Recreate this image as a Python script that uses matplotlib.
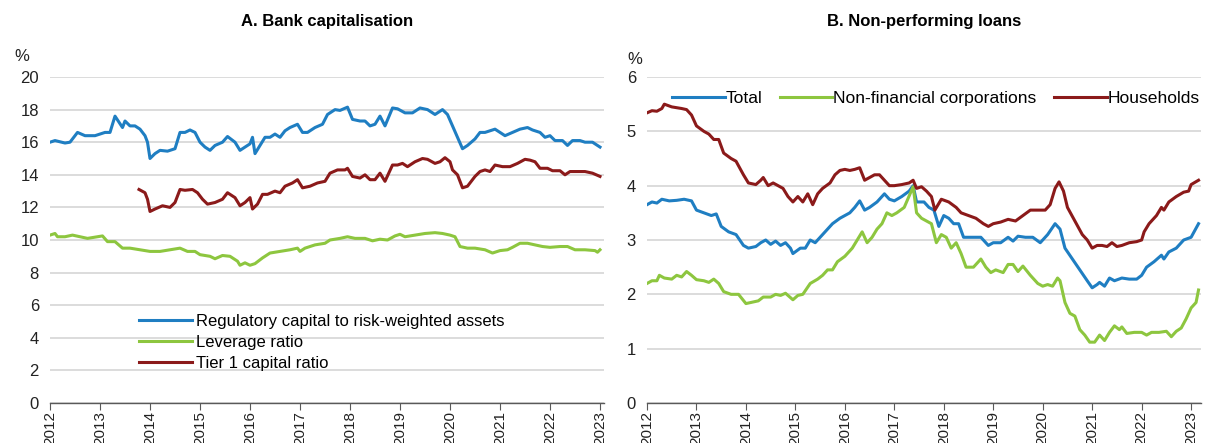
import numpy as np
import matplotlib
matplotlib.use("Agg")
import matplotlib.pyplot as plt

plt.rcParams['font.family'] = ['Liberation Sans', 'DejaVu Sans']

BLUE = "#1f7ec2"
GREEN = "#8dc63f"
RED = "#8b1a1a"

# Panel A: bank capitalisation (%)
reg_t = [2012.0, 2012.1, 2012.3, 2012.4, 2012.55, 2012.7, 2012.9, 2013.0, 2013.1, 2013.2,
         2013.3, 2013.45, 2013.5, 2013.6, 2013.7, 2013.8, 2013.9, 2013.95, 2014.0, 2014.1,
         2014.2, 2014.35, 2014.5, 2014.6, 2014.7, 2014.8, 2014.9, 2015.0, 2015.1, 2015.2,
         2015.3, 2015.45, 2015.55, 2015.7, 2015.8, 2015.9, 2016.0, 2016.05, 2016.1, 2016.2,
         2016.3, 2016.4, 2016.5, 2016.6, 2016.7, 2016.8, 2016.95, 2017.05, 2017.15, 2017.3,
         2017.45, 2017.55, 2017.7, 2017.8, 2017.95, 2018.05, 2018.2, 2018.3, 2018.4, 2018.5,
         2018.6, 2018.7, 2018.85, 2018.95, 2019.1, 2019.25, 2019.4, 2019.55, 2019.7, 2019.85,
         2019.95, 2020.05, 2020.15, 2020.25, 2020.35, 2020.5, 2020.6, 2020.7, 2020.8, 2020.9,
         2021.0, 2021.1, 2021.25, 2021.4, 2021.55, 2021.65, 2021.8, 2021.9, 2022.0, 2022.1,
         2022.25, 2022.35, 2022.45, 2022.6, 2022.7, 2022.85, 2023.0]
reg_v = [16.0, 16.1, 15.95, 16.0, 16.6, 16.4, 16.4, 16.5, 16.6, 16.6,
         17.6, 16.9, 17.3, 17.0, 17.0, 16.8, 16.4, 16.0, 15.0, 15.3,
         15.5, 15.45, 15.6, 16.6, 16.6, 16.75, 16.6, 16.0, 15.7, 15.5,
         15.8, 16.0, 16.35, 16.0, 15.5, 15.7, 15.9, 16.3, 15.3, 15.8,
         16.3, 16.3, 16.5, 16.3, 16.7, 16.9, 17.1, 16.6, 16.6, 16.9,
         17.1, 17.7, 18.0, 17.95, 18.15, 17.4, 17.3, 17.3, 17.0, 17.1,
         17.6, 17.0, 18.1, 18.05, 17.8, 17.8, 18.1, 18.0, 17.7, 18.0,
         17.7, 17.0, 16.3, 15.6, 15.8, 16.2, 16.6, 16.6, 16.7, 16.8,
         16.6, 16.4, 16.6, 16.8, 16.9, 16.75, 16.6, 16.3, 16.4, 16.1,
         16.1, 15.8, 16.1, 16.1, 16.0, 16.0, 15.7]

lev_t = [2012.0, 2012.1, 2012.15, 2012.3, 2012.45, 2012.6, 2012.75, 2012.95, 2013.05, 2013.15,
         2013.3, 2013.45, 2013.6, 2013.8, 2014.0, 2014.2, 2014.4, 2014.6, 2014.75, 2014.9,
         2015.0, 2015.2, 2015.3, 2015.45, 2015.6, 2015.75, 2015.8, 2015.9, 2016.0, 2016.1,
         2016.25, 2016.4, 2016.6, 2016.8, 2016.95, 2017.0, 2017.1, 2017.3, 2017.5, 2017.6,
         2017.8, 2017.95, 2018.1, 2018.3, 2018.45, 2018.6, 2018.75, 2018.9, 2019.0, 2019.1,
         2019.3, 2019.5, 2019.7, 2019.85, 2020.0, 2020.1, 2020.2, 2020.35, 2020.5, 2020.7,
         2020.85, 2021.0, 2021.15, 2021.25, 2021.4, 2021.55, 2021.7, 2021.85, 2022.0, 2022.2,
         2022.35, 2022.5, 2022.7, 2022.9, 2022.95, 2023.0]
lev_v = [10.3, 10.4, 10.2, 10.2, 10.3, 10.2, 10.1, 10.2, 10.25, 9.9,
         9.9, 9.5, 9.5, 9.4, 9.3, 9.3, 9.4, 9.5, 9.3, 9.3,
         9.1, 9.0, 8.85, 9.05, 9.0, 8.7, 8.45, 8.6, 8.45, 8.55,
         8.9, 9.2, 9.3, 9.4, 9.5, 9.3, 9.5, 9.7, 9.8, 10.0,
         10.1, 10.2, 10.1, 10.1, 9.95, 10.05, 10.0, 10.25, 10.35, 10.2,
         10.3, 10.4, 10.45, 10.4, 10.3, 10.2, 9.6, 9.5, 9.5, 9.4,
         9.2, 9.35, 9.4, 9.55, 9.8, 9.8, 9.7, 9.6, 9.55, 9.6,
         9.6, 9.4, 9.4, 9.35, 9.25, 9.4]

tier_t = [2013.78, 2013.9, 2013.95, 2014.0, 2014.1, 2014.25, 2014.4, 2014.5, 2014.6, 2014.7,
          2014.85, 2014.95, 2015.05, 2015.15, 2015.3, 2015.45, 2015.55, 2015.7, 2015.8, 2015.9,
          2016.0, 2016.05, 2016.15, 2016.25, 2016.35, 2016.5, 2016.6, 2016.7, 2016.85, 2016.95,
          2017.05, 2017.2, 2017.35, 2017.5, 2017.6, 2017.75, 2017.9, 2017.95, 2018.05, 2018.2,
          2018.3, 2018.4, 2018.5, 2018.6, 2018.7, 2018.85, 2018.95, 2019.05, 2019.15, 2019.3,
          2019.45, 2019.55, 2019.7, 2019.8, 2019.9, 2020.0, 2020.05, 2020.15, 2020.25, 2020.35,
          2020.5, 2020.6, 2020.7, 2020.8, 2020.9, 2021.05, 2021.2, 2021.35, 2021.5, 2021.6,
          2021.7, 2021.8, 2021.95, 2022.05, 2022.2, 2022.3, 2022.4, 2022.55, 2022.7, 2022.85,
          2023.0]
tier_v = [13.1, 12.9, 12.5, 11.75, 11.9, 12.1, 12.0, 12.3, 13.1, 13.05,
          13.1, 12.9, 12.5, 12.2, 12.3, 12.5, 12.9, 12.6, 12.1, 12.3,
          12.6, 11.9, 12.2, 12.8, 12.8, 13.0, 12.9, 13.3, 13.5, 13.7,
          13.2, 13.3, 13.5, 13.6, 14.1, 14.3, 14.3, 14.4, 13.9, 13.8,
          14.0, 13.7, 13.7, 14.1, 13.6, 14.6, 14.6, 14.7, 14.5, 14.8,
          15.0, 14.95, 14.7, 14.8, 15.05, 14.8, 14.3, 14.0, 13.2, 13.3,
          13.9, 14.2, 14.3, 14.2, 14.6, 14.5, 14.5, 14.7, 14.95, 14.9,
          14.8, 14.4, 14.4, 14.25, 14.25, 14.0, 14.2, 14.2, 14.2, 14.1,
          13.9]

# Panel B: non-performing loans (%)
tot_t = [2012.0, 2012.1, 2012.2, 2012.3, 2012.45, 2012.6, 2012.75, 2012.9, 2013.0, 2013.15,
         2013.3, 2013.4, 2013.5, 2013.65, 2013.8, 2013.95, 2014.05, 2014.2, 2014.3, 2014.4,
         2014.5, 2014.6, 2014.7, 2014.8, 2014.9, 2014.95, 2015.1, 2015.2, 2015.3, 2015.4,
         2015.5, 2015.6, 2015.75, 2015.9, 2016.0, 2016.1, 2016.2, 2016.3, 2016.4, 2016.5,
         2016.65, 2016.8, 2016.9, 2017.0, 2017.15, 2017.3, 2017.38, 2017.45, 2017.6, 2017.7,
         2017.8, 2017.9, 2018.0, 2018.1, 2018.2, 2018.3, 2018.4, 2018.6, 2018.75, 2018.9,
         2019.0, 2019.15, 2019.3, 2019.4, 2019.5, 2019.65, 2019.8, 2019.95, 2020.1, 2020.25,
         2020.35, 2020.45, 2020.6, 2020.75, 2020.9, 2021.0, 2021.1, 2021.15, 2021.25, 2021.35,
         2021.45, 2021.6, 2021.75, 2021.9, 2022.0, 2022.1, 2022.25, 2022.4, 2022.45, 2022.55,
         2022.7, 2022.85, 2023.0, 2023.15]
tot_v = [3.65, 3.7, 3.68, 3.75, 3.72, 3.73, 3.75, 3.72, 3.55, 3.5,
         3.45, 3.48, 3.25, 3.15, 3.1, 2.9, 2.85, 2.88, 2.95, 3.0,
         2.92, 2.98, 2.9, 2.95, 2.85, 2.75, 2.85, 2.85, 3.0, 2.95,
         3.05, 3.15, 3.3, 3.4, 3.45, 3.5, 3.6, 3.72, 3.55, 3.6,
         3.7, 3.85, 3.75, 3.72, 3.8, 3.9, 4.0, 3.7, 3.7, 3.6,
         3.55, 3.25, 3.45, 3.4, 3.3, 3.3, 3.05, 3.05, 3.05, 2.9,
         2.95, 2.95, 3.05, 2.98, 3.07, 3.05, 3.05, 2.95, 3.1, 3.3,
         3.2, 2.85, 2.65, 2.45, 2.25, 2.12, 2.18, 2.22, 2.15, 2.3,
         2.25, 2.3, 2.28, 2.28, 2.35, 2.5, 2.6, 2.72, 2.65, 2.78,
         2.85, 3.0, 3.05, 3.3]

nfc_t = [2012.0, 2012.1, 2012.2, 2012.25, 2012.35, 2012.5, 2012.6, 2012.7, 2012.8, 2012.9,
         2013.0, 2013.15, 2013.25, 2013.35, 2013.45, 2013.55, 2013.7, 2013.85, 2014.0, 2014.1,
         2014.25, 2014.35, 2014.5, 2014.6, 2014.7, 2014.8, 2014.95, 2015.05, 2015.15, 2015.3,
         2015.45, 2015.55, 2015.65, 2015.75, 2015.85, 2016.0, 2016.15, 2016.25, 2016.35, 2016.45,
         2016.55, 2016.65, 2016.75, 2016.85, 2016.95, 2017.05, 2017.2, 2017.38, 2017.45, 2017.55,
         2017.65, 2017.75, 2017.85, 2017.95, 2018.05, 2018.15, 2018.25, 2018.35, 2018.45, 2018.6,
         2018.75, 2018.85, 2018.95, 2019.05, 2019.2, 2019.3, 2019.4, 2019.5, 2019.6, 2019.75,
         2019.9, 2020.0, 2020.1, 2020.2, 2020.3, 2020.35, 2020.45, 2020.55, 2020.65, 2020.75,
         2020.85, 2020.95, 2021.05, 2021.15, 2021.25, 2021.35, 2021.45, 2021.55, 2021.6, 2021.7,
         2021.85, 2022.0, 2022.1, 2022.2, 2022.35, 2022.5, 2022.6, 2022.7, 2022.8, 2022.9,
         2023.0, 2023.1, 2023.15]
nfc_v = [2.2, 2.25, 2.25, 2.35, 2.3, 2.28, 2.35, 2.32, 2.42, 2.35,
         2.27, 2.25, 2.22, 2.28, 2.2, 2.05, 2.0, 2.0, 1.83, 1.85,
         1.88, 1.95, 1.95, 2.0, 1.98, 2.02, 1.9, 1.98, 2.0, 2.2,
         2.28, 2.35, 2.45, 2.45, 2.6, 2.7, 2.85, 3.0, 3.15, 2.95,
         3.05, 3.2, 3.3, 3.5, 3.45, 3.5, 3.6, 3.98, 3.5, 3.4,
         3.35, 3.3, 2.95, 3.1, 3.05, 2.85, 2.95, 2.75, 2.5, 2.5,
         2.65, 2.5, 2.4, 2.45, 2.4, 2.55, 2.55, 2.42, 2.52, 2.35,
         2.2, 2.15, 2.18, 2.15, 2.3, 2.25, 1.85, 1.65, 1.6, 1.35,
         1.25, 1.12, 1.12, 1.25, 1.15, 1.3, 1.42, 1.35, 1.4, 1.28,
         1.3, 1.3, 1.25, 1.3, 1.3, 1.32, 1.22, 1.32, 1.38, 1.55,
         1.75, 1.85, 2.08]

hh_t = [2012.0, 2012.1, 2012.2, 2012.3, 2012.35, 2012.5, 2012.7, 2012.8, 2012.9, 2013.0,
        2013.15, 2013.25, 2013.35, 2013.45, 2013.55, 2013.7, 2013.8, 2013.95, 2014.05, 2014.2,
        2014.3, 2014.35, 2014.45, 2014.55, 2014.65, 2014.75, 2014.85, 2014.95, 2015.05, 2015.15,
        2015.25, 2015.35, 2015.45, 2015.55, 2015.7, 2015.8, 2015.9, 2016.0, 2016.1, 2016.2,
        2016.3, 2016.4, 2016.5, 2016.6, 2016.7, 2016.8, 2016.9, 2017.0, 2017.15, 2017.3,
        2017.38, 2017.45, 2017.55, 2017.65, 2017.75, 2017.82, 2017.95, 2018.1, 2018.25, 2018.35,
        2018.5, 2018.65, 2018.8, 2018.9, 2019.0, 2019.15, 2019.3, 2019.45, 2019.6, 2019.75,
        2019.9, 2020.05, 2020.15, 2020.25, 2020.33, 2020.42, 2020.5, 2020.65, 2020.8, 2020.9,
        2021.0, 2021.1, 2021.2, 2021.3, 2021.4, 2021.5, 2021.6, 2021.75, 2021.9, 2022.0,
        2022.05, 2022.15, 2022.3, 2022.4, 2022.45, 2022.55, 2022.7, 2022.85, 2022.95, 2023.0,
        2023.15]
hh_v = [5.34, 5.38, 5.37, 5.42, 5.5, 5.45, 5.42, 5.4, 5.3, 5.1,
        5.0, 4.95, 4.85, 4.85, 4.6, 4.5, 4.45, 4.2, 4.05, 4.02,
        4.1, 4.15, 4.0, 4.05, 4.0, 3.95, 3.8, 3.7, 3.8, 3.7,
        3.85, 3.65, 3.85, 3.95, 4.05, 4.2, 4.28, 4.3, 4.28, 4.3,
        4.33, 4.1, 4.15, 4.2, 4.2, 4.1, 4.0, 4.0, 4.02, 4.05,
        4.1, 3.95, 3.98, 3.9, 3.8, 3.55, 3.75, 3.7, 3.6, 3.5,
        3.45, 3.4, 3.3, 3.25, 3.3, 3.33, 3.38, 3.35, 3.45, 3.55,
        3.55, 3.55, 3.65, 3.95, 4.07, 3.9, 3.6, 3.35, 3.1, 3.0,
        2.85, 2.9, 2.9, 2.88, 2.95, 2.88, 2.9, 2.95, 2.97, 3.0,
        3.15, 3.3, 3.45, 3.6, 3.55, 3.7, 3.8, 3.88, 3.9, 4.02,
        4.1]

years = list(range(2012, 2024))

fig = plt.figure(figsize=(12.08, 4.43), dpi=100)
axA = fig.add_axes([50 / 1208, 40 / 443, 554 / 1208, 326 / 443])
axB = fig.add_axes([647 / 1208, 40 / 443, 554 / 1208, 326 / 443])


def style(ax, ymax, step, xmax):
    ax.set_xlim(2012, xmax)
    ax.set_ylim(0, ymax)
    ax.set_yticks(np.arange(0, ymax + 0.01, step))
    ax.yaxis.grid(True, color="#d9d9d9", lw=1.3)
    ax.set_axisbelow(True)
    for s in ["top", "right", "left"]:
        ax.spines[s].set_visible(False)
    ax.spines["bottom"].set_color("#595959")
    ax.spines["bottom"].set_linewidth(1.0)
    ax.set_xticks(years)
    ax.set_xticklabels([str(y) for y in years], rotation=90)
    ax.tick_params(axis="x", direction="out", length=5, color="#595959",
                   labelsize=11, labelcolor="#222222", pad=1)
    ax.tick_params(axis="y", length=0, labelsize=12, labelcolor="#222222", pad=8)


style(axA, 20, 2, 2023.08)
axA.plot(reg_t, reg_v, color=BLUE, lw=2.2, label="Regulatory capital to risk-weighted assets")
axA.plot(lev_t, lev_v, color=GREEN, lw=2.2, label="Leverage ratio")
axA.plot(tier_t, tier_v, color=RED, lw=2.2, label="Tier 1 capital ratio")
axA.legend(loc="upper left", bbox_to_anchor=(0.145, 0.30), frameon=False, fontsize=12,
           handlelength=3.2, handletextpad=0.25, labelspacing=0.38, borderpad=0)
axA.set_title("A. Bank capitalisation", fontsize=12, fontweight="bold", pad=37)
axA.text(-0.065, 1.05, "%", transform=axA.transAxes, fontsize=12, color="#222222")

style(axB, 6, 1, 2023.2)
axB.plot(tot_t, tot_v, color=BLUE, lw=2.2, label="Total")
axB.plot(nfc_t, nfc_v, color=GREEN, lw=2.2, label="Non-financial corporations")
axB.plot(hh_t, hh_v, color=RED, lw=2.2, label="Households")
axB.legend(loc="upper left", bbox_to_anchor=(0.03, 0.985), ncol=3, frameon=False, fontsize=12.6,
           handlelength=3.0, handletextpad=0.05, columnspacing=1.0, borderpad=0)
axB.set_title("B. Non-performing loans", fontsize=12, fontweight="bold", pad=37)
axB.text(-0.035, 1.04, "%", transform=axB.transAxes, fontsize=12, color="#222222")

fig.savefig("out.png", dpi=100)
